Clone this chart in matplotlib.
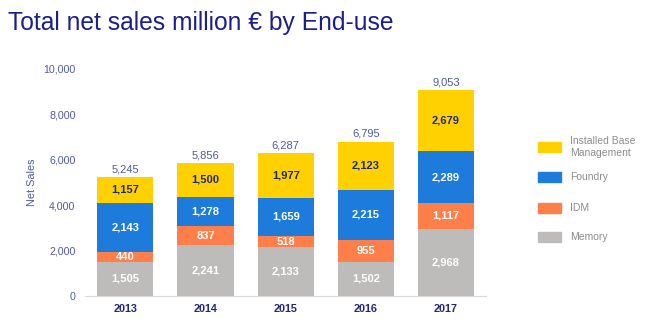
import matplotlib
matplotlib.use("Agg")
import matplotlib.pyplot as plt
from matplotlib.patches import Rectangle

plt.rcParams["font.family"] = ["Liberation Sans", "DejaVu Sans"]

years = ["2013", "2014", "2015", "2016", "2017"]
memory = [1505, 2241, 2133, 1502, 2968]
idm = [440, 837, 518, 955, 1117]
foundry = [2143, 1278, 1659, 2215, 2289]
ibm = [1157, 1500, 1977, 2123, 2679]
totals = [5245, 5856, 6287, 6795, 9053]

series = [
    ("Memory", memory, "#BDBCBB", "white"),
    ("IDM", idm, "#FF7F4A", "white"),
    ("Foundry", foundry, "#1C7BDB", "white"),
    ("Installed Base\nManagement", ibm, "#FFD100", "#1F2A6E"),
]

navy = "#1A1F8C"
slate = "#4E5AA6"

fig = plt.figure(figsize=(6.56, 3.31), dpi=100)
ax = fig.add_axes([0.130, 0.106, 0.611, 0.686])

x = list(range(len(years)))
bottom = [0] * len(years)
for name, vals, col, tcol in series:
    ax.bar(x, vals, bottom=bottom, width=0.7, color=col, edgecolor="none")
    for i, v in enumerate(vals):
        ax.text(x[i], bottom[i] + v / 2, f"{v:,}", ha="center", va="center",
                color=tcol, fontsize=8, fontweight="bold")
    bottom = [b + v for b, v in zip(bottom, vals)]

for i, t in enumerate(totals):
    ax.text(x[i], t + 120, f"{t:,}", ha="center", va="bottom", color=slate, fontsize=8)

ax.set_ylim(0, 10000)
ax.set_xlim(-0.5, 4.5)
ax.set_yticks(range(0, 10001, 2000))
ax.set_yticklabels([f"{v:,}" for v in range(0, 10001, 2000)], color=slate, fontsize=7.7)
ax.set_xticks(x)
ax.set_xticklabels(years, color="#1F2A7A", fontsize=7.8, fontweight="bold")
ax.tick_params(axis="x", length=0, pad=6)
ax.tick_params(axis="y", length=0, pad=7)
for s in ["top", "right", "left"]:
    ax.spines[s].set_visible(False)
ax.spines["bottom"].set_color("#D9D9D9")
ax.set_ylabel("Net Sales", color=slate, fontsize=7.8)
ax.yaxis.set_label_coords(-0.12, 0.5)

fig.text(0.012, 0.93, "Total net sales million \u20ac by End-use", color=navy, fontsize=17.7,
         ha="left", va="center")

# legend drawn manually
leg_y = [147, 177, 208, 237]
for (name, vals, col, tcol), yy in zip(series[::-1], leg_y):
    fy = 1 - yy / 331
    fig.add_artist(Rectangle((538 / 656, fy - 5 / 331), 23 / 656, 10 / 331,
                             transform=fig.transFigure, color=col))
    fig.text(570 / 656, fy, name, color="#8C8C8C", fontsize=7.5, ha="left", va="center",
             linespacing=1.25)

fig.savefig("out.png", dpi=100)
